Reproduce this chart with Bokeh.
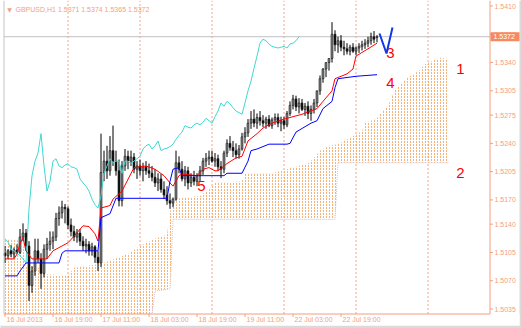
from bokeh.plotting import figure
from bokeh.models import Range1d, ColumnDataSource
from bokeh.core.properties import value
from bokeh.embed import file_html
from bokeh.resources import INLINE

# ---------------- data (prices as pips above 1.5000) ----------------
BASE = 1.5
open_pips = [104,101,107,103,108,105,124,129,113,64,82,107,97,79,109,115,119,124,147,154,
             161,159,139,131,124,129,119,113,115,107,112,99,92,204,218,206,231,218,206,169,
             212,224,218,223,208,212,206,211,206,203,198,191,196,183,176,169,166,171,216,208,
             196,206,191,198,193,200,206,218,221,223,218,221,211,208,228,240,235,231,226,233,
             248,253,265,270,265,272,268,265,270,262,269,272,265,268,263,277,287,295,285,290,
             282,286,277,282,290,305,320,332,340,345,375,362,367,359,357,354,359,354,358,360,
             362,364,367,372,371]
high_pips = [113,109,114,111,115,134,141,134,119,88,122,122,104,115,123,131,131,154,162,169,
             165,162,147,138,134,134,125,122,119,117,114,107,252,231,237,249,262,231,220,218,
             233,231,231,228,218,220,216,218,215,212,208,203,202,193,187,178,173,231,224,218,
             212,211,203,206,203,212,222,228,231,231,228,226,218,231,245,249,243,240,238,253,
             260,270,280,282,277,280,275,273,275,272,277,277,273,273,280,292,300,299,296,295,
             290,292,287,295,305,324,333,340,345,390,380,372,374,367,364,362,364,360,364,367,
             369,372,377,379,374]
low_pips = [92,97,99,98,103,103,119,107,45,55,76,92,60,74,97,107,109,119,138,147,
            141,134,125,119,117,113,107,104,101,101,92,82,87,193,196,200,212,200,162,162,
            206,208,212,203,196,200,193,201,197,193,186,181,179,171,164,159,161,169,203,193,
            187,183,186,188,187,193,201,211,213,216,211,206,197,203,223,231,223,221,221,231,
            240,248,258,260,258,262,260,258,260,258,263,260,255,258,260,274,282,280,277,280,
            274,270,268,277,285,300,315,322,330,340,354,352,354,349,350,349,352,349,352,355,
            357,359,362,364,365]
close_pips = [101,107,103,108,105,124,129,113,64,82,107,97,79,109,115,119,124,147,154,161,
              159,139,131,124,129,119,113,115,107,112,99,92,204,218,206,231,218,206,169,212,
              224,218,223,208,212,206,211,206,203,198,191,196,183,176,169,166,171,216,208,196,
              206,191,198,193,200,206,218,221,223,218,221,211,208,228,240,235,231,226,233,248,
              253,265,270,265,272,268,265,270,262,269,272,265,268,263,277,287,295,285,290,282,
              286,277,282,290,305,320,332,340,345,375,362,367,359,357,354,359,354,358,360,362,
              364,367,372,369,372]

tenkan_bar = [0,3,4,5,6,7,9,14,16,19,21,23,26,28,30,31,32,35,36,39,43,47,50,53,55,56,58,59,
              64,66,68,70,71,74,77,79,81,84,86,89,93,99,104,106,109,110,114,116,117,121,124]
tenkan_pips = [97,97,103,116,123,107,97,97,107,113,117,125,138,137,128,119,160,163,171,181,
               210,212,208,200,191,187,200,202,200,208,210,206,206,215,222,224,243,252,259,265,
               270,276,283,292,305,320,326,332,348,357,364]

kijun_bar = [0,4,5,7,18,19,20,31,32,35,37,54,55,56,58,59,73,74,79,81,82,84,88,94,95,97,102,
             104,106,109,110,111,117,124]
kijun_pips = [76,76,82,92,92,104,107,107,148,153,172,172,193,208,210,200,200,203,203,218,231,
              233,239,239,240,254,265,268,283,292,309,320,323,325]

chikou_pips = [122,118,109,107,104,101,97,92,159,200,218,228,252,212,181,193,218,221,212,210,
               213,215,211,210,208,196,191,187,181,171,164,160,175,203,212,221,216,218,218,203,
               218,218,215,218,221,224,233,237,239,233,237,243,231,233,234,236,239,245,250,254,
               262,260,259,263,265,263,266,271,268,265,273,280,290,286,292,289,284,280,278,276,
               290,305,317,333,348,364,369,367,363,360,359,358,359,360,358,363,364,367,372]

spanA_bar = [0,6,7,13,14,21,23,32,41,45,50,54,55,56,65,69,70,79,80,89,92,96,101,103,105,108,
             111,119,120,124,128,130,134,138,140,143,145,148]
spanA_pips = [122,119,88,85,78,76,86,91,103,113,122,127,154,171,175,187,191,193,202,203,206,
              210,215,222,231,237,239,255,265,271,289,307,321,330,338,343,346,344]
spanB_bar = [0,49,50,55,56,110,111,148]
spanB_pips = [15,15,57,60,146,146,216,216]

time_ticks = [0, 16, 32, 48, 64, 80, 96, 112]
time_labels = ["16 Jul 2013", "16 Jul 19:00", "17 Jul 11:00", "18 Jul 03:00",
               "18 Jul 19:00", "19 Jul 11:00", "22 Jul 03:00", "22 Jul 19:00"]
day_lines = [21, 45, 69, 93, 117, 141]
price_ticks = [1.5410, 1.5375, 1.5340, 1.5305, 1.5275, 1.5240, 1.5205, 1.5170,
               1.5140, 1.5105, 1.5070, 1.5035]
ohlc_title = "GBPUSD,H1  1.5371 1.5374 1.5365 1.5372"
bid = 1.5372


def price(v):
    return [BASE + a / 10000 for a in v]


# ---------------- geometry helpers (screen pixel -> data) ----------------
W, H = 521, 328
PX_PER_BAR = 3.0
PX_PER_PRICE = 8080.0


def bx(cx):
    return (cx - 4.5) / PX_PER_BAR


def py(cy):
    return 1.5410 - (cy - 5.5) / PX_PER_PRICE


SALMON = "#F59E80"
GRID = "#F5A488"
FONT = "Liberation Sans"

p = figure(width=W, height=H, x_range=Range1d(bx(0), bx(W)), y_range=Range1d(py(H), py(0)),
           x_axis_type=None, y_axis_type=None, toolbar_location=None, output_backend="svg",
           min_border=0, background_fill_color="white", border_fill_color="white")
p.outline_line_color = None

LEFT, RIGHT, BOTTOM, TOP = bx(3.5), bx(489.5), py(313.5), py(0)


def clip_low(vals):
    # the chart window ends at its bottom axis: nothing is drawn below it
    return [max(v, BOTTOM) for v in vals]


# window border (right and bottom strips)
p.quad(left=[bx(519), -10], right=[bx(530), bx(530)], bottom=[py(400), py(400)],
       top=[py(-10), py(325)], fill_color="#DADADA", line_color=None)

# day separators (dashed grid)
p.segment(x0=day_lines, y0=[BOTTOM] * len(day_lines), x1=day_lines, y1=[TOP] * len(day_lines),
          line_color=GRID, line_dash="2 2", line_width=1)

# cloud
cx = spanA_bar + spanB_bar[::-1]
cy = clip_low(price(spanA_pips) + price(spanB_pips)[::-1])
p.patch(cx, cy, fill_color=None, line_color=None, hatch_pattern="vertical_line",
        hatch_scale=3, hatch_color="#F4A460", hatch_weight=1, hatch_alpha=0.85)
p.patch(cx, cy, fill_color=None, line_color=None, hatch_pattern="horizontal_line",
        hatch_scale=3, hatch_color="white", hatch_weight=1, hatch_alpha=1.0)
p.line(spanB_bar, clip_low(price(spanB_pips)), line_color="#D8BFD8", line_dash="1 1",
       line_width=1)

# bid line
p.segment(x0=[LEFT], y0=[bid], x1=[RIGHT], y1=[bid], line_color="#C0C0C0", line_width=1)

# candles
n = len(close_pips)
o, h, l, c = price(open_pips), price(high_pips), price(low_pips), price(close_pips)
src = ColumnDataSource(dict(
    x=list(range(n)), h=h, l=l,
    top=[max(a, b) for a, b in zip(o, c)],
    bot=[min(a, b) for a, b in zip(o, c)],
    fill=["#8C8C8C" if cc >= oo else "#000000" for oo, cc in zip(o, c)]))
p.segment(x0="x", y0="l", x1="x", y1="h", source=src, line_color="black", line_width=1)
p.vbar(x="x", width=0.62, top="top", bottom="bot", source=src, fill_color="fill",
       line_color="#202020", line_width=0.7)

# ichimoku lines
p.line(list(range(len(chikou_pips))), price(chikou_pips), line_color="#40D8D0", line_width=1)
p.line(tenkan_bar, price(tenkan_pips), line_color="#FF0000", line_width=1)
p.line(kijun_bar, price(kijun_pips), line_color="#0000FF", line_width=1)

# white area below the chart window (axis band)
p.quad(left=[bx(0)], right=[bx(519)], top=[BOTTOM], bottom=[py(325)], fill_color="white",
       line_color=None)

# frame lines: left border, bottom and right axis lines
p.segment(x0=[LEFT], y0=[BOTTOM], x1=[LEFT], y1=[TOP], line_color="#C4C4C4", line_width=1)
p.segment(x0=[LEFT, RIGHT], y0=[BOTTOM, BOTTOM], x1=[RIGHT, RIGHT], y1=[BOTTOM, TOP],
          line_color=SALMON, line_width=1)

# price axis ticks and labels
p.segment(x0=[RIGHT] * len(price_ticks), y0=price_ticks, x1=[bx(492.5)] * len(price_ticks),
          y1=price_ticks, line_color=SALMON, line_width=1)
p.text(x=[bx(494)] * len(price_ticks), y=price_ticks, text=["%.4f" % t for t in price_ticks],
       text_font=value(FONT), text_font_size=value("7px"), text_color=SALMON,
       text_baseline="middle", text_align="left")

# time axis ticks and labels
p.segment(x0=time_ticks, y0=[BOTTOM] * len(time_ticks), x1=time_ticks,
          y1=[py(316.5)] * len(time_ticks), line_color=SALMON, line_width=1)
p.text(x=[t + 0.5 for t in time_ticks], y=[py(315)] * len(time_ticks), text=time_labels,
       text_font=value(FONT), text_font_size=value("7px"), text_color=SALMON,
       text_baseline="top", text_align="left")

# bid price tag
p.quad(left=[bx(490)], right=[bx(519)], top=[bid + 4.5 / PX_PER_PRICE],
       bottom=[bid - 4.5 / PX_PER_PRICE], fill_color="#F58A62", line_color=None)
p.text(x=[bx(493)], y=[bid], text=["%.4f" % bid], text_font=value(FONT),
       text_font_size=value("7px"), text_color="white", text_baseline="middle")

# title
p.text(x=[bx(9)], y=[py(9)], text=["\u25BC"], text_font=value("DejaVu Sans"),
       text_font_size=value("6px"), text_color=SALMON, text_align="center",
       text_baseline="middle")
p.text(x=[bx(15)], y=[py(9)], text=[ohlc_title], text_font=value(FONT),
       text_font_size=value("7px"), text_color=SALMON, text_baseline="middle")

# red numbers
marks = ["1", "2", "3", "4", "5"]
mark_x = [bx(460), bx(460), bx(390), bx(390), bx(201)]
mark_y = [py(68), py(172), py(52), py(82), py(185)]
p.text(x=mark_x, y=mark_y, text=marks, text_font=value(FONT), text_font_size=value("15px"),
       text_color="#FF0000", text_align="center", text_baseline="middle")

# blue check mark
p.line(x=[bx(379), bx(386), bx(392)], y=[py(33), py(53), py(27)], line_color="#1436E6",
       line_width=2)

open("out.html", "w").write(file_html(p, INLINE))
